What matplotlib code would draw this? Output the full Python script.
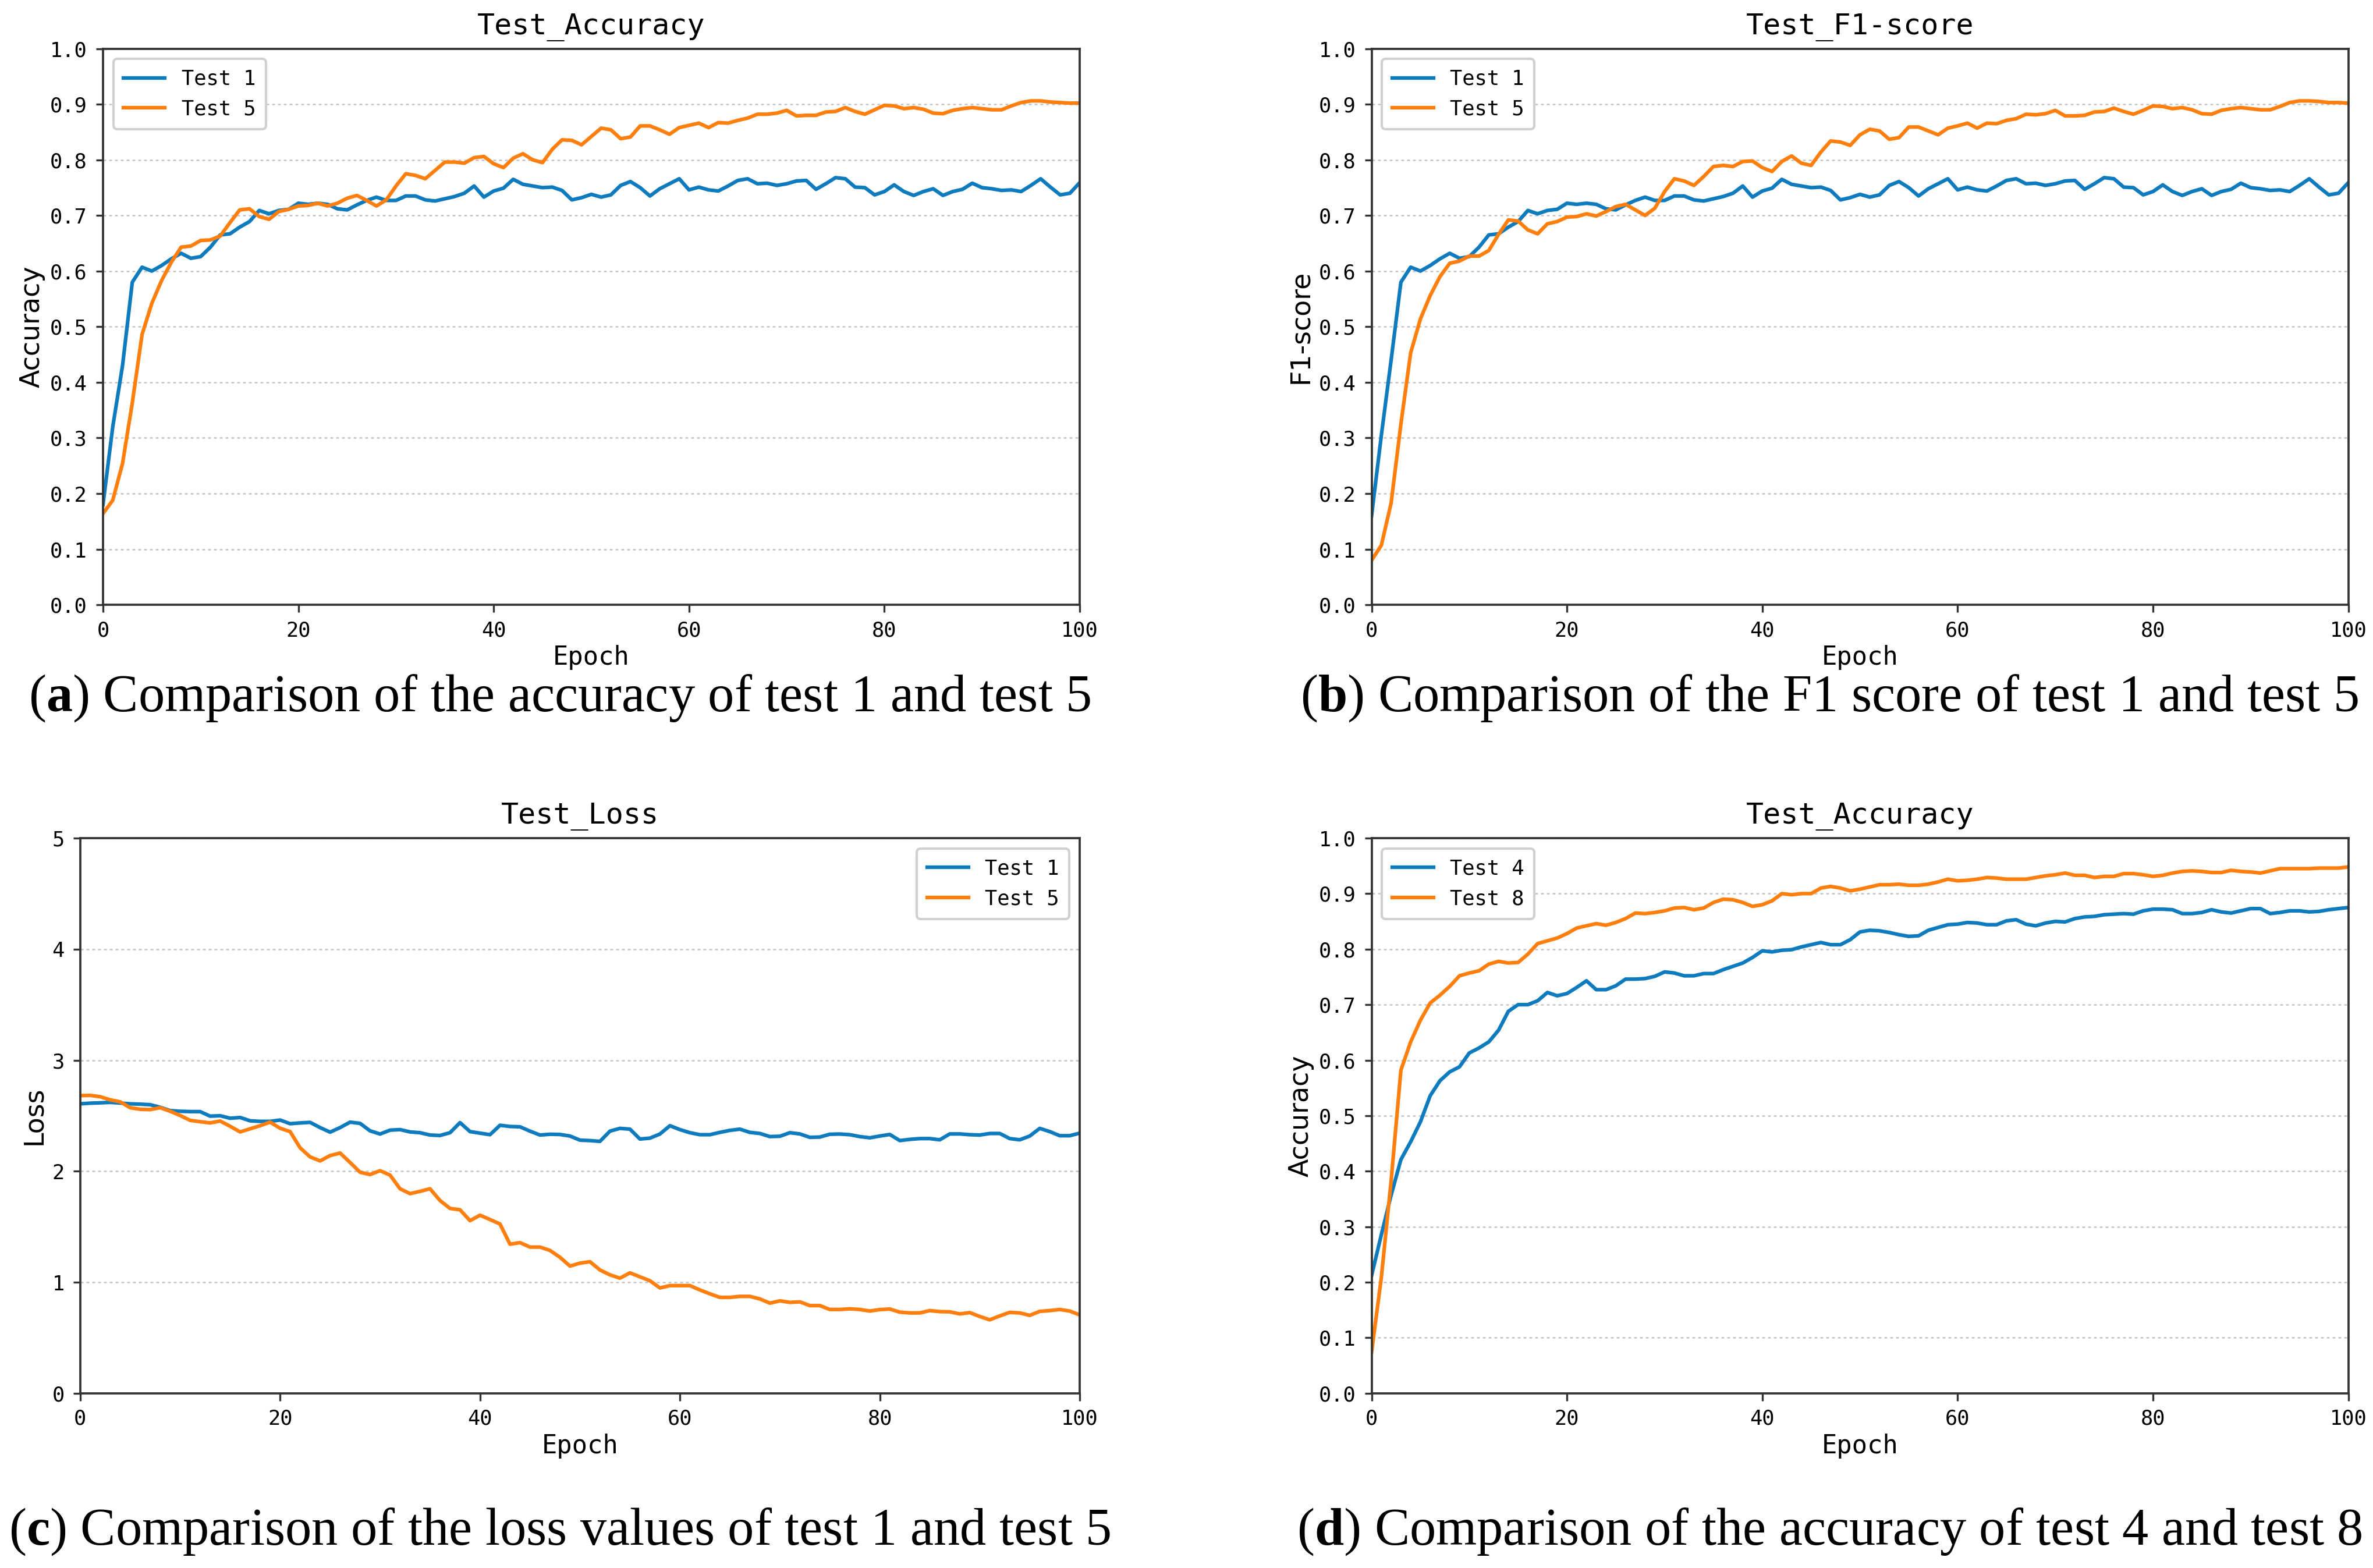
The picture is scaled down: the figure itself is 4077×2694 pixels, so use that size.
import matplotlib

matplotlib.use("Agg")
import matplotlib.pyplot as plt

# values, epochs 0..100
epochs = list(range(101))

acc_test1 = [
    0.18, 0.32, 0.43, 0.58, 0.607, 0.60, 0.61, 0.622, 0.632, 0.623,
    0.626, 0.643, 0.665, 0.667, 0.679, 0.689, 0.709, 0.703, 0.709, 0.711,
    0.722, 0.72, 0.722, 0.72, 0.712, 0.71, 0.719, 0.727, 0.733, 0.727,
    0.727, 0.735, 0.735, 0.728, 0.726, 0.73, 0.734, 0.74, 0.753, 0.733,
    0.744, 0.749, 0.765, 0.756, 0.753, 0.75, 0.751, 0.745, 0.728, 0.732,
    0.738, 0.733, 0.737, 0.754, 0.761, 0.75, 0.735, 0.748, 0.757, 0.766,
    0.746, 0.751, 0.746, 0.744, 0.753, 0.763, 0.766, 0.757, 0.758, 0.754,
    0.757, 0.762, 0.763, 0.747, 0.757, 0.768, 0.766, 0.751, 0.75, 0.737,
    0.743, 0.755, 0.743, 0.736, 0.743, 0.748, 0.736, 0.743, 0.747, 0.758,
    0.75, 0.748, 0.745, 0.746, 0.743, 0.754, 0.766, 0.751, 0.737, 0.74,
    0.759,
]
acc_test5 = [
    0.164, 0.188, 0.254, 0.363, 0.486, 0.542, 0.583, 0.616, 0.643, 0.645,
    0.655, 0.656, 0.663, 0.687, 0.71, 0.712, 0.698, 0.693, 0.707, 0.711,
    0.717, 0.718, 0.722, 0.717, 0.722, 0.731, 0.736, 0.727, 0.717, 0.728,
    0.753, 0.775, 0.772, 0.766, 0.781, 0.796, 0.796, 0.794, 0.804, 0.806,
    0.793, 0.786, 0.803, 0.811, 0.8, 0.795, 0.819, 0.836, 0.835, 0.827,
    0.842, 0.857, 0.854, 0.838, 0.841, 0.861, 0.861, 0.854, 0.846, 0.858,
    0.862, 0.866, 0.858, 0.867, 0.866, 0.871, 0.875, 0.882, 0.882, 0.884,
    0.889, 0.879, 0.88, 0.88, 0.886, 0.887, 0.894, 0.887, 0.882, 0.89,
    0.898, 0.897, 0.892, 0.894, 0.891, 0.884, 0.883, 0.889, 0.892, 0.894,
    0.892, 0.89, 0.89, 0.897, 0.903, 0.906, 0.906, 0.904, 0.903, 0.902,
    0.902,
]

f1_test1 = [
    0.16, 0.305, 0.44, 0.58, 0.607, 0.60, 0.61, 0.622, 0.632, 0.623,
    0.626, 0.643, 0.665, 0.667, 0.679, 0.689, 0.709, 0.703, 0.709, 0.711,
    0.722, 0.72, 0.722, 0.72, 0.712, 0.71, 0.719, 0.727, 0.733, 0.727,
    0.727, 0.735, 0.735, 0.728, 0.726, 0.73, 0.734, 0.74, 0.753, 0.733,
    0.744, 0.749, 0.765, 0.756, 0.753, 0.75, 0.751, 0.745, 0.728, 0.732,
    0.738, 0.733, 0.737, 0.754, 0.761, 0.75, 0.735, 0.748, 0.757, 0.766,
    0.746, 0.751, 0.746, 0.744, 0.753, 0.763, 0.766, 0.757, 0.758, 0.754,
    0.757, 0.762, 0.763, 0.747, 0.757, 0.768, 0.766, 0.751, 0.75, 0.737,
    0.743, 0.755, 0.743, 0.736, 0.743, 0.748, 0.736, 0.743, 0.747, 0.758,
    0.75, 0.748, 0.745, 0.746, 0.743, 0.754, 0.766, 0.751, 0.737, 0.74,
    0.759,
]
f1_test5 = [
    0.08, 0.107, 0.183, 0.325, 0.453, 0.514, 0.556, 0.59, 0.614, 0.618,
    0.627, 0.627, 0.637, 0.666, 0.692, 0.69, 0.674, 0.667, 0.685, 0.689,
    0.697, 0.698, 0.703, 0.699, 0.707, 0.716, 0.72, 0.71, 0.7, 0.713,
    0.743, 0.766, 0.762, 0.754, 0.77, 0.788, 0.79, 0.788, 0.797, 0.798,
    0.786, 0.779, 0.797, 0.807, 0.794, 0.79, 0.814, 0.834, 0.832, 0.826,
    0.845, 0.855, 0.852, 0.837, 0.84, 0.859, 0.859, 0.852, 0.845, 0.857,
    0.861, 0.866, 0.857, 0.866, 0.865, 0.871, 0.874, 0.882, 0.881, 0.883,
    0.889, 0.879, 0.879, 0.88, 0.886, 0.887, 0.893, 0.887, 0.882, 0.889,
    0.897, 0.896, 0.892, 0.894, 0.89, 0.883, 0.882, 0.889, 0.892, 0.894,
    0.892, 0.89, 0.89, 0.896, 0.903, 0.906, 0.906, 0.905, 0.903, 0.903,
    0.902,
]

loss_test1 = [
    2.607, 2.613, 2.616, 2.62, 2.614, 2.607, 2.604, 2.599, 2.576, 2.546,
    2.54, 2.537, 2.537, 2.496, 2.5, 2.477, 2.484, 2.454, 2.449, 2.449,
    2.461, 2.428, 2.435, 2.44, 2.393, 2.352, 2.393, 2.442, 2.431, 2.364,
    2.335, 2.37, 2.375, 2.354, 2.347, 2.326, 2.322, 2.347, 2.438, 2.357,
    2.343, 2.329, 2.414, 2.403, 2.4, 2.361, 2.326, 2.333, 2.331, 2.317,
    2.28, 2.276, 2.269, 2.361, 2.386, 2.379, 2.29, 2.298, 2.335, 2.41,
    2.375, 2.347, 2.329, 2.329, 2.35, 2.368, 2.379, 2.35, 2.34, 2.312,
    2.315, 2.347, 2.336, 2.305, 2.308, 2.333, 2.335, 2.329, 2.312, 2.301,
    2.317, 2.331, 2.276, 2.287, 2.294, 2.294, 2.283, 2.336, 2.336, 2.329,
    2.326, 2.34, 2.34, 2.294, 2.283, 2.317, 2.386, 2.357, 2.32, 2.32,
    2.343,
]
loss_test5 = [
    2.681, 2.683, 2.671, 2.643, 2.625, 2.572, 2.558, 2.555, 2.572, 2.54,
    2.502, 2.458, 2.446, 2.435, 2.452, 2.405, 2.354, 2.382, 2.41, 2.442,
    2.387, 2.357, 2.211, 2.129, 2.093, 2.141, 2.164, 2.079, 1.991, 1.97,
    2.005, 1.965, 1.842, 1.798, 1.819, 1.842, 1.736, 1.665, 1.653, 1.555,
    1.604, 1.565, 1.525, 1.343, 1.357, 1.317, 1.317, 1.287, 1.225, 1.146,
    1.172, 1.185, 1.111, 1.067, 1.037, 1.085, 1.049, 1.014, 0.949, 0.97,
    0.97, 0.97, 0.931, 0.896, 0.864, 0.864, 0.873, 0.873, 0.85, 0.812,
    0.833, 0.819, 0.824, 0.79, 0.79, 0.755, 0.755, 0.761, 0.755, 0.741,
    0.754, 0.759, 0.731, 0.724, 0.724, 0.745, 0.736, 0.734, 0.715, 0.727,
    0.692, 0.662, 0.697, 0.729, 0.724, 0.702, 0.738, 0.745, 0.755, 0.741,
    0.706,
]

acc_test4 = [
    0.212, 0.286, 0.357, 0.421, 0.453, 0.489, 0.536, 0.563, 0.579, 0.588,
    0.613, 0.622, 0.633, 0.654, 0.688, 0.7, 0.7, 0.707, 0.722, 0.716,
    0.72, 0.731, 0.743, 0.727, 0.727, 0.734, 0.746, 0.746, 0.747, 0.751,
    0.759, 0.757, 0.752, 0.752, 0.756, 0.756, 0.763, 0.769, 0.775, 0.785,
    0.797, 0.795, 0.798, 0.799, 0.804, 0.808, 0.812, 0.808, 0.808, 0.817,
    0.831, 0.834, 0.833, 0.83, 0.826, 0.823, 0.824, 0.834, 0.839, 0.844,
    0.845, 0.848, 0.847, 0.844, 0.844, 0.851, 0.853, 0.845, 0.842, 0.847,
    0.85, 0.849, 0.855, 0.858, 0.859, 0.862, 0.863, 0.864, 0.863, 0.869,
    0.872, 0.872, 0.871, 0.864, 0.864, 0.866, 0.871, 0.867, 0.865, 0.869,
    0.873, 0.873, 0.864, 0.866, 0.869, 0.869, 0.867, 0.868, 0.871, 0.873,
    0.875,
]
acc_test8 = [
    0.074, 0.209, 0.383, 0.582, 0.633, 0.672, 0.703, 0.717, 0.733, 0.752,
    0.757, 0.761, 0.773, 0.778, 0.775, 0.776, 0.791, 0.81, 0.815, 0.82,
    0.828, 0.838, 0.842, 0.846, 0.843, 0.848, 0.855, 0.865, 0.864, 0.866,
    0.869, 0.874, 0.875, 0.871, 0.874, 0.884, 0.89, 0.889, 0.884, 0.877,
    0.88, 0.887, 0.9, 0.898, 0.9, 0.9, 0.91, 0.913, 0.91, 0.905,
    0.908, 0.912, 0.916, 0.916, 0.917, 0.915, 0.915, 0.917, 0.921, 0.926,
    0.923, 0.924, 0.926, 0.929, 0.928, 0.926, 0.926, 0.926, 0.929, 0.932,
    0.934, 0.937, 0.933, 0.933, 0.929, 0.931, 0.931, 0.936, 0.936, 0.934,
    0.931, 0.933, 0.937, 0.94, 0.941, 0.94, 0.938, 0.938, 0.942, 0.94,
    0.939, 0.937, 0.941, 0.945, 0.945, 0.945, 0.945, 0.946, 0.946, 0.946,
    0.948,
]

acc_ticks = [0.0, 0.1, 0.2, 0.3, 0.4, 0.5, 0.6, 0.7, 0.8, 0.9, 1.0]
loss_ticks = [0, 1, 2, 3, 4, 5]
epoch_ticks = [0, 20, 40, 60, 80, 100]

BLUE = "#0f7bbf"
ORANGE = "#ff7f0e"
MONO = "DejaVu Sans Mono"

plt.rcParams["mathtext.fontset"] = "custom"
plt.rcParams["mathtext.rm"] = "Liberation Serif"
plt.rcParams["mathtext.bf"] = "Liberation Serif:bold"


def panel(ax, title, ylabel, s1, s2, names, ticks, tick_fmt, legend_loc):
    ax.plot(epochs[: len(s1)], s1, color=BLUE, lw=1.5, label=names[0])
    ax.plot(epochs[: len(s2)], s2, color=ORANGE, lw=1.5, label=names[1])
    ax.set_xlim(0, 100)
    ax.set_ylim(ticks[0], ticks[-1])
    ax.set_xticks(epoch_ticks)
    ax.set_yticks(ticks)
    ax.set_yticklabels([tick_fmt.format(t) for t in ticks])
    ax.yaxis.grid(True, linestyle=(0, (2, 2)), linewidth=0.6, color="#c4c4c4")
    ax.set_axisbelow(True)
    for sp in ax.spines.values():
        sp.set_color("#333333")
        sp.set_linewidth(0.9)
    ax.tick_params(labelsize=8.5, length=3, width=0.8, color="#333333")
    for lab in ax.get_xticklabels() + ax.get_yticklabels():
        lab.set_family(MONO)
    ax.set_title(title, fontsize=12, family=MONO)
    ax.set_xlabel("Epoch", fontsize=10.5, family=MONO, labelpad=2)
    ax.set_ylabel(ylabel, fontsize=11, family="DejaVu Sans", labelpad=2)
    ax.legend(loc=legend_loc, prop={"family": MONO, "size": 8.5},
              framealpha=1, edgecolor="#d0d0d0", borderpad=0.5)


fig = plt.figure(figsize=(4077 / 300, 2694 / 300), dpi=300)

ax_a = fig.add_axes([0.0434, 0.6143, 0.4116, 0.3547])
ax_b = fig.add_axes([0.5780, 0.6143, 0.4116, 0.3547])
ax_c = fig.add_axes([0.0338, 0.1114, 0.4212, 0.3541])
ax_d = fig.add_axes([0.5780, 0.1114, 0.4116, 0.3541])

panel(ax_a, "Test_Accuracy", "Accuracy", acc_test1, acc_test5,
      ["Test 1", "Test 5"], acc_ticks, "{:.1f}", "upper left")
panel(ax_b, "Test_F1-score", "F1-score", f1_test1, f1_test5,
      ["Test 1", "Test 5"], acc_ticks, "{:.1f}", "upper left")
panel(ax_c, "Test_Loss", "Loss", loss_test1, loss_test5,
      ["Test 1", "Test 5"], loss_ticks, "{:d}", "upper right")
panel(ax_d, "Test_Accuracy", "Accuracy", acc_test4, acc_test8,
      ["Test 4", "Test 8"], acc_ticks, "{:.1f}", "upper left")

captions = [
    (0.236, 0.5546, r"($\mathbf{a}$) Comparison of the accuracy of test 1 and test 5"),
    (0.771, 0.5546, r"($\mathbf{b}$) Comparison of the F1 score of test 1 and test 5"),
    (0.236, 0.0232, r"($\mathbf{c}$) Comparison of the loss values of test 1 and test 5"),
    (0.771, 0.0232, r"($\mathbf{d}$) Comparison of the accuracy of test 4 and test 8"),
]
for x, y, txt in captions:
    fig.text(x, y, txt, ha="center", va="center", fontsize=21.7,
             family="Liberation Serif")

plt.savefig("out.png", dpi=300)
